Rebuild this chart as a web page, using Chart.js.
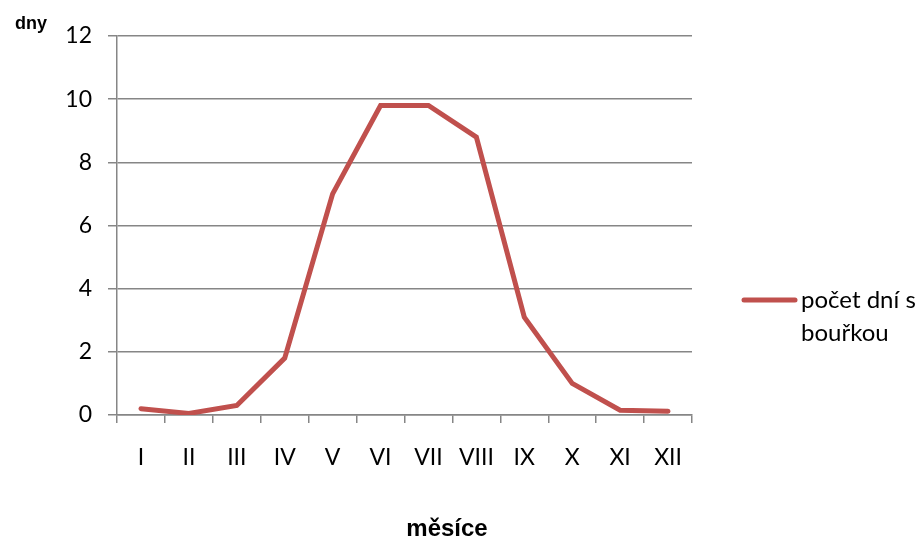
<!DOCTYPE html>
<html><head><meta charset="utf-8">
<script src="https://cdn.jsdelivr.net/npm/chart.js@4/dist/chart.umd.min.js"></script>
<style>html,body{margin:0;padding:0;background:#fff}#wrap{width:922px;height:542px;position:relative}</style>
</head><body><div id="wrap"><canvas id="c" width="922" height="542"></canvas></div>
<script>
const months = ['I','II','III','IV','V','VI','VII','VIII','IX','X','XI','XII'];
const stormDays = [0.2,0.05,0.3,1.8,7.0,9.8,9.8,8.8,3.1,1.0,0.15,0.12];
const seriesLabel = ['počet dní s','bouřkou'];
const yTitle = 'dny';
const xTitle = 'měsíce';
const lineColor = '#c0504d';
const axisColor = '#868686';

const extras = {
  id:'extras',
  afterDraw(chart){
    const ctx = chart.ctx;
    ctx.save();
    ctx.fillStyle = '#000';
    ctx.textBaseline = 'middle';
    ctx.font = 'bold 18px "Liberation Sans", Arial, sans-serif';
    ctx.textAlign = 'center';
    ctx.fillText(yTitle, 31, 24);
    ctx.font = 'bold 24px "Liberation Sans", Arial, sans-serif';
    ctx.fillText(xTitle, 447, 529);
    // legend
    const ly = 300;
    ctx.strokeStyle = lineColor; ctx.lineWidth = 5; ctx.lineCap = 'round';
    ctx.beginPath(); ctx.moveTo(744, ly); ctx.lineTo(795, ly); ctx.stroke();
    ctx.font = '24px Lato, "Open Sans", sans-serif';
    ctx.textAlign = 'left';
    seriesLabel.forEach((t,i)=>ctx.fillText(t, 801, ly + i*33));
    ctx.restore();
  }
};

new Chart(document.getElementById('c'), {
  type:'line',
  data:{labels:months, datasets:[{label:seriesLabel.join(' '), data:stormDays, borderColor:lineColor, backgroundColor:lineColor, borderWidth:5, pointRadius:0, tension:0, borderJoinStyle:'miter', borderCapStyle:'round'}]},
  options:{
    responsive:false, animation:false, devicePixelRatio:1,
    layout:{padding:{left:0,top:36,right:230,bottom:0}},
    plugins:{legend:{display:false}, tooltip:{enabled:false}},
    scales:{
      x:{offset:true,
        grid:{offset:true, drawOnChartArea:false, drawTicks:true, tickLength:8, color:axisColor, lineWidth:1.5},
        border:{color:axisColor, width:1.5},
        ticks:{color:'#000', font:{family:'Lato, "Open Sans", sans-serif', size:23}, padding:21, maxRotation:0, autoSkip:false},
        afterFit(s){ s.height = 127; }
      },
      y:{min:0,max:12,
        grid:{color:axisColor, lineWidth:1.5, tickLength:9},
        border:{color:axisColor, width:1.5},
        ticks:{stepSize:2, color:'#000', font:{family:'Lato, "Open Sans", sans-serif', size:23}, padding:16},
        afterFit(s){ s.width = 117; }
      }
    }
  },
  plugins:[extras]
});
</script></body></html>
